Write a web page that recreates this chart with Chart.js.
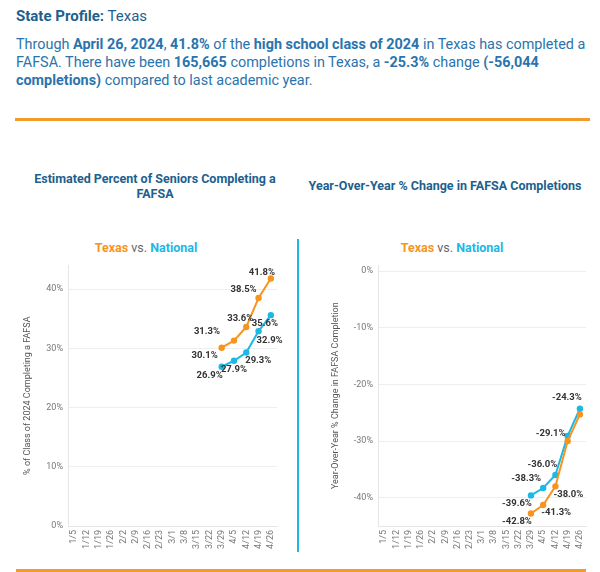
<!DOCTYPE html>
<html>
<head>
<meta charset="utf-8">
<script src="https://cdn.jsdelivr.net/npm/chart.js@4.4.1/dist/chart.umd.min.js"></script>
<style>
  body { margin: 0; width: 600px; height: 572px; background: #fff; font-family: Roboto, "Noto Sans", sans-serif; position: relative; overflow: hidden; }
  .head { position: absolute; left: 16px; top: 7px; font-size: 15px; color: #1d5f8e; }
  .para { position: absolute; left: 16px; top: 36px; font-size: 14.4px; line-height: 18px; color: #2a74ad; }
  .hr { position: absolute; background: #f39a2b; height: 3px; }
  .sep { position: absolute; left: 297px; top: 239px; width: 2px; height: 313px; background: #1fb6e2; }
  .ctitle { position: absolute; font-size: 12.5px; font-weight: bold; color: #1d5f8e; text-align: center; line-height: 15px; }
  .vs { position: absolute; font-size: 12.5px; font-weight: bold; color: #666; text-align: center; }
  .vs .tx { color: #f7941e; } .vs .nt { color: #1cb8e6; } .vs .v { font-weight: normal; }
  canvas { position: absolute; }
</style>
</head>
<body>
<div class="head"><b>State Profile:</b> Texas</div>
<div class="para">Through <b>April 26, 2024</b>, <b>41.8%</b> of the <b>high school class of 2024</b> in Texas has completed a<br>FAFSA. There have been <b>165,665</b> completions in Texas, a <b>-25.3%</b> change <b>(-56,044</b><br><b>completions)</b> compared to last academic year.</div>
<div class="hr" style="left:15px; top:118px; width:575px;"></div>
<div class="ctitle" style="left:20px; top:171px; width:270px;">Estimated Percent of Seniors Completing a<br>FAFSA</div>
<div class="ctitle" style="left:300px; top:178px; width:290px;">Year-Over-Year % Change in FAFSA Completions</div>
<div class="vs" style="left:40px; top:240px; width:212px;"><span class="tx">Texas</span> <span class="v">vs.</span> <span class="nt">National</span></div>
<div class="vs" style="left:346px; top:240px; width:212px;"><span class="tx">Texas</span> <span class="v">vs.</span> <span class="nt">National</span></div>
<div class="sep"></div>
<div class="hr" style="left:16px; top:569px; width:570px;"></div>
<canvas id="pctChart" style="left:0; top:255px; width:290px; height:306px;"></canvas>
<canvas id="yoyChart" style="left:300px; top:255px; width:300px; height:306px;"></canvas>
<script>
// Semanas (viernes) de 2024
const weeks = ['1/5', '1/12', '1/19', '1/26', '2/2', '2/9', '2/16', '2/23', '3/1', '3/8', '3/15', '3/22', '3/29', '4/5', '4/12', '4/19', '4/26'];

// % de la clase de 2024 que completó la FAFSA
const texasPct = [null, null, null, null, null, null, null, null, null, null, null, null, 30.1, 31.3, 33.6, 38.5, 41.8];
const nationalPct = [null, null, null, null, null, null, null, null, null, null, null, null, 26.9, 27.9, 29.3, 32.9, 35.6];

// Cambio % interanual en completadas
const texasYoy = [null, null, null, null, null, null, null, null, null, null, null, null, -42.8, -41.3, -38.0, -30.0, -25.3];
const nationalYoy = [null, null, null, null, null, null, null, null, null, null, null, null, -39.6, -38.3, -36.0, -29.1, -24.3];
const texasYoyShown = [false, false, false, false, false, false, false, false, false, false, false, false, true, true, true, false, false];

const pctTicks = [0, 10, 20, 30, 40];
const yoyTicks = [0, -10, -20, -30, -40];

const ORANGE = '#f7941e';
const CYAN = '#1cb8e6';

// etiquetas de valores dibujadas a mano (sin plugin externo)
const pointLabels = {
    id: 'pointLabels',
    afterDatasetsDraw(chart) {
        const ctx = chart.ctx;
        ctx.save();
        ctx.font = 'bold 9.5px Roboto, sans-serif';
        ctx.fillStyle = '#333';
        ctx.textAlign = 'center';
        ctx.textBaseline = 'middle';
        chart.data.datasets.forEach((ds, i) => {
            const meta = chart.getDatasetMeta(i);
            meta.data.forEach((pt, j) => {
                const v = ds.data[j];
                if (v === null) return;
                if (ds.showLabel && !ds.showLabel[j]) return;
                const off = ds.labelOffsets[j] || [0, -10];
                ctx.fillText(v.toFixed(1) + '%', pt.x + off[0], pt.y + off[1]);
            });
        });
        ctx.restore();
    }
};

function makeChart(id, tx, nat, ticks, min, max, yTitle, axisWidth, titlePad, txOff, natOff, txShown) {
    return new Chart(document.getElementById(id), {
        type: 'line',
        data: {
            labels: weeks,
            datasets: [{
                label: 'Texas',
                data: tx,
                borderColor: ORANGE,
                backgroundColor: ORANGE,
                borderWidth: 2,
                pointRadius: 2.2,
                pointHoverRadius: 2.2,
                labelOffsets: txOff,
                showLabel: txShown
            }, {
                label: 'National',
                data: nat,
                borderColor: CYAN,
                backgroundColor: CYAN,
                borderWidth: 2,
                pointRadius: 2.2,
                pointHoverRadius: 2.2,
                labelOffsets: natOff
            }]
        },
        options: {
            responsive: false,
            animation: false,
            layout: { padding: { top: 7, right: id === 'pctChart' ? 13 : 14, left: 0, bottom: 0 } },
            plugins: { legend: { display: false }, tooltip: { enabled: false } },
            scales: {
                x: {
                    offset: true,
                    grid: { display: false, drawTicks: false },
                    border: { display: true, color: '#e6e6e6' },
                    ticks: {
                        color: '#777', font: { size: 9, family: 'Roboto' },
                        minRotation: 90, maxRotation: 90, autoSkip: false, padding: 4
                    },
                    afterFit: s => { s.height = 35; }
                },
                y: {
                    min: min, max: max,
                    grid: { color: '#eeeeee', drawTicks: false },
                    border: { display: true, color: '#e6e6e6' },
                    ticks: {
                        color: '#777', font: { size: 9, family: 'Roboto' }, padding: 5,
                        callback: v => v + '%'
                    },
                    afterBuildTicks: s => { s.ticks = ticks.map(v => ({ value: v })); },
                    afterFit: s => { s.width = axisWidth; },
                    title: {
                        display: true, text: yTitle, color: '#555',
                        font: { size: 9, family: 'Roboto' }, padding: { top: titlePad, bottom: 0 }
                    }
                }
            }
        },
        plugins: [pointLabels]
    });
}

const pctCanvas = document.getElementById('pctChart');
pctCanvas.width = 290; pctCanvas.height = 306;
const yoyCanvas = document.getElementById('yoyChart');
yoyCanvas.width = 300; yoyCanvas.height = 306;

makeChart('pctChart', texasPct, nationalPct, pctTicks, 0, 44,
    '% of Class of 2024 Completing a FAFSA', 68, 22,
    { 12: [-17, 8], 13: [-27, -9], 14: [-6, -8], 15: [-15, -8], 16: [-9, -6] },
    { 12: [-12, 9], 13: [0, 9], 14: [12, 8], 15: [11, 9], 16: [-6, 8] });

makeChart('yoyChart', texasYoy, nationalYoy, yoyTicks, -45, 1,
    'Year-Over-Year % Change in FAFSA Completion', 78, 30,
    { 12: [-14, 8], 13: [13, 8], 14: [13, 8] },
    { 12: [-14, 8], 13: [-17, -9], 14: [-13, -10], 15: [-17, -2], 16: [-13, -11] },
    texasYoyShown);
</script>
</body>
</html>
